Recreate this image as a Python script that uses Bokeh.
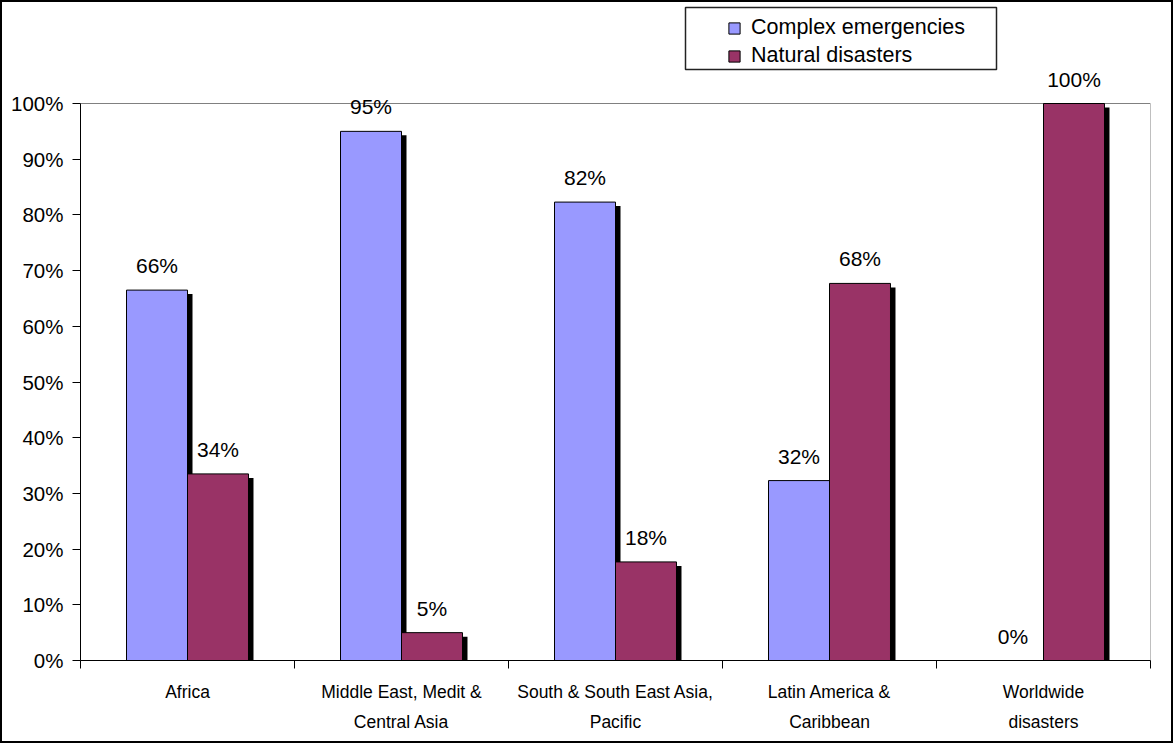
from bokeh.plotting import figure
from bokeh.models import (Range1d, FixedTicker, ColumnDataSource, LabelSet, Legend,
                          LegendItem, BoxAnnotation)
from bokeh.core.properties import value
from bokeh.embed import file_html
from bokeh.resources import INLINE

categories = ["Africa", "Middle East, Medit &\nCentral Asia",
              "South & South East Asia,\nPacific", "Latin America &\nCaribbean",
              "Worldwide\ndisasters"]
complex_emergencies = [66.5, 95.0, 82.3, 32.3, 0.0]
natural_disasters = [33.5, 5.0, 17.7, 67.7, 100.0]
complex_labels = ["66%", "95%", "82%", "32%", "0%"]
natural_labels = ["34%", "5%", "18%", "68%", "100%"]
y_ticks = list(range(0, 101, 10))
y_tick_labels = {t: f"{t}%" for t in y_ticks}

W, H = 1173, 743
# page-pixel geometry of the plotting area
PX_LEFT, PX_RIGHT, PX_TOP100, PX_ZERO = 80, 1150, 103, 660
BL = PX_LEFT
BR = W - PX_RIGHT
BB = H - PX_ZERO
BT = 3
frame_w = W - BL - BR
frame_h = H - BT - BB
h100 = PX_ZERO - PX_TOP100
y_end = 100.0 * frame_h / h100
n = len(categories)

FONT = "Liberation Sans"
BLUE = "#9999FF"
PLUM = "#993366"

p = figure(width=W, height=H, output_backend="svg", toolbar_location=None,
           x_range=Range1d(0, n), y_range=Range1d(0, y_end),
           min_border_left=BL, min_border_right=BR, min_border_top=BT,
           min_border_bottom=BB,
           styles={"box-shadow": "inset 0 0 0 2px black", "background": "white"})
p.grid.visible = False
p.outline_line_color = None
p.background_fill_alpha = 0
p.border_fill_alpha = 0

# plot-area box (grey) up to 100%
p.quad(left=[0], right=[n], bottom=[0], top=[100], fill_color="white",
       line_color="#808080", line_width=1)

bw = 0.285
dx = 5 * n / frame_w      # shadow offset (px -> data)
dy = 4 * 100 / h100

centers = [i + 0.5 for i in range(n)]
src = ColumnDataSource(dict(
    xc=[c - bw / 2 for c in centers],
    xn=[c + bw / 2 for c in centers],
    xcs=[c - bw / 2 + dx for c in centers],
    xns=[c + bw / 2 + dx for c in centers],
    yc=complex_emergencies, yn=natural_disasters,
    ycs=[v - dy for v in complex_emergencies],
    yns=[v - dy for v in natural_disasters],
    lc=complex_labels, ln=natural_labels,
))

# shadows
p.vbar(x="xcs", top="ycs", width=bw, source=src, fill_color="black", line_color=None)
p.vbar(x="xns", top="yns", width=bw, source=src, fill_color="black", line_color=None)
rc = p.vbar(x="xc", top="yc", width=bw, source=src, fill_color=BLUE,
            line_color="black", line_width=1)
rn = p.vbar(x="xn", top="yn", width=bw, source=src, fill_color=PLUM,
            line_color="black", line_width=1)

for xcol, ycol, tcol in (("xc", "yc", "lc"), ("xn", "yn", "ln")):
    p.add_layout(LabelSet(x=xcol, y=ycol, text=tcol, source=src, y_offset=17,
                          text_align="center", text_baseline="alphabetic",
                          text_font=value(FONT), text_font_size="21px",
                          text_color="black"))

# y axis
ya = p.yaxis[0]
ya.bounds = (0, 100)
ya.ticker = FixedTicker(ticks=y_ticks)
ya.major_label_overrides = y_tick_labels
ya.major_label_text_font = FONT
ya.major_label_text_font_size = "20.5px"
ya.major_label_text_color = "black"
ya.major_tick_out = 8
ya.major_tick_in = 0
ya.minor_tick_out = 0
ya.minor_tick_in = 0
ya.major_label_standoff = 9
ya.axis_line_color = "black"
ya.major_tick_line_color = "black"

# x axis
xa = p.xaxis[0]
xa.ticker = FixedTicker(ticks=centers, minor_ticks=list(range(n + 1)))
xa.major_label_overrides = {c: lab for c, lab in zip(centers, categories)}
xa.major_label_text_font = FONT
xa.major_label_text_font_size = "17.5px"
xa.major_label_text_color = "black"
xa.major_label_text_line_height = 1.5
xa.major_tick_out = 0
xa.major_tick_in = 0
xa.minor_tick_out = 8
xa.minor_tick_in = 0
xa.minor_tick_line_color = "black"
xa.major_label_standoff = 13
xa.axis_line_color = "black"

# legend
legend = Legend(items=[LegendItem(label="Complex emergencies", renderers=[rc]),
                       LegendItem(label="Natural disasters", renderers=[rn])],
                location=(727 - PX_LEFT, PX_ZERO - 69.5),
                padding=0, margin=0, spacing=0,
                glyph_width=14, glyph_height=14, label_height=28,
                label_standoff=10, label_text_font=FONT,
                label_text_font_size="21.5px", label_text_color="black",
                border_line_alpha=0, background_fill_alpha=0)
p.add_layout(legend, "center")

p.add_layout(BoxAnnotation(left=685, right=996, top=7, bottom=69,
                           left_units="canvas", right_units="canvas",
                           top_units="canvas", bottom_units="canvas",
                           fill_alpha=0, line_color="#222222", line_alpha=1,
                           line_width=1.5, level="overlay"))

open("out.html", "w").write(file_html(p, INLINE))
